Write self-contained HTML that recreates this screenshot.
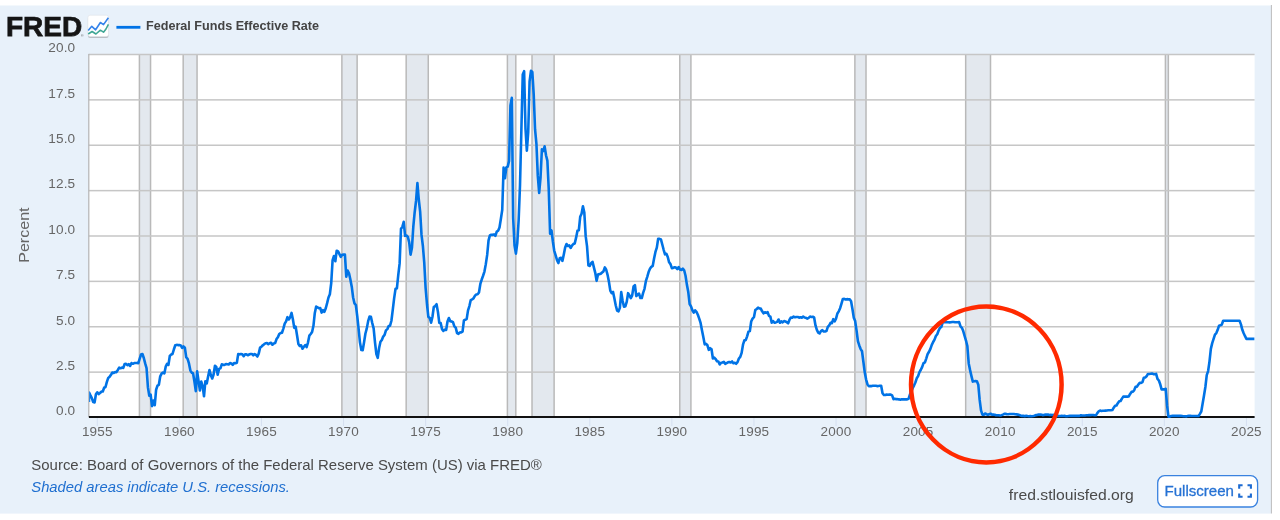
<!DOCTYPE html>
<html lang="en"><head><meta charset="utf-8"><title>Federal Funds Effective Rate | FRED</title>
<style>html,body{margin:0;padding:0;background:#fff;width:1280px;height:520px;overflow:hidden}svg{display:block;position:absolute;left:0;top:0;will-change:transform}text{font-family:"Liberation Sans",sans-serif}.ax{font-size:13px;fill:#666666}.ay{letter-spacing:0.15px;font-size:13.6px}.axx{letter-spacing:0.2px;font-size:13.5px}</style></head><body>
<svg width="1280" height="520" viewBox="0 0 1280 520">
<rect x="0" y="5.5" width="1271.4" height="508.1" fill="#e8f1fa"/>
<rect x="1270.9" y="5" width="1" height="508.5" fill="#bdbdbd"/>
<defs><clipPath id="pc"><rect x="89.2" y="40" width="1165.4" height="380"/></clipPath></defs>
<rect x="88.8" y="54.5" width="1165.8" height="362.5" fill="#ffffff"/>
<rect x="139.41" y="54.5" width="11.14" height="362.5" fill="#e3e8ee"/>
<rect x="138.66" y="54.5" width="1.5" height="362.5" fill="#b9b9b9"/>
<rect x="149.80" y="54.5" width="1.5" height="362.5" fill="#b9b9b9"/>
<rect x="183.18" y="54.5" width="13.88" height="362.5" fill="#e3e8ee"/>
<rect x="182.43" y="54.5" width="1.5" height="362.5" fill="#b9b9b9"/>
<rect x="196.31" y="54.5" width="1.5" height="362.5" fill="#b9b9b9"/>
<rect x="341.87" y="54.5" width="15.25" height="362.5" fill="#e3e8ee"/>
<rect x="341.12" y="54.5" width="1.5" height="362.5" fill="#b9b9b9"/>
<rect x="356.37" y="54.5" width="1.5" height="362.5" fill="#b9b9b9"/>
<rect x="406.17" y="54.5" width="22.09" height="362.5" fill="#e3e8ee"/>
<rect x="405.42" y="54.5" width="1.5" height="362.5" fill="#b9b9b9"/>
<rect x="427.51" y="54.5" width="1.5" height="362.5" fill="#b9b9b9"/>
<rect x="507.40" y="54.5" width="8.41" height="362.5" fill="#e3e8ee"/>
<rect x="506.65" y="54.5" width="1.5" height="362.5" fill="#b9b9b9"/>
<rect x="515.06" y="54.5" width="1.5" height="362.5" fill="#b9b9b9"/>
<rect x="532.02" y="54.5" width="22.09" height="362.5" fill="#e3e8ee"/>
<rect x="531.27" y="54.5" width="1.5" height="362.5" fill="#b9b9b9"/>
<rect x="553.36" y="54.5" width="1.5" height="362.5" fill="#b9b9b9"/>
<rect x="679.77" y="54.5" width="11.14" height="362.5" fill="#e3e8ee"/>
<rect x="679.02" y="54.5" width="1.5" height="362.5" fill="#b9b9b9"/>
<rect x="690.16" y="54.5" width="1.5" height="362.5" fill="#b9b9b9"/>
<rect x="854.87" y="54.5" width="11.14" height="362.5" fill="#e3e8ee"/>
<rect x="854.12" y="54.5" width="1.5" height="362.5" fill="#b9b9b9"/>
<rect x="865.27" y="54.5" width="1.5" height="362.5" fill="#b9b9b9"/>
<rect x="965.68" y="54.5" width="24.82" height="362.5" fill="#e3e8ee"/>
<rect x="964.93" y="54.5" width="1.5" height="362.5" fill="#b9b9b9"/>
<rect x="989.75" y="54.5" width="1.5" height="362.5" fill="#b9b9b9"/>
<rect x="1165.41" y="54.5" width="2.94" height="362.5" fill="#e3e8ee"/>
<rect x="1164.66" y="54.5" width="1.5" height="362.5" fill="#b9b9b9"/>
<rect x="1167.59" y="54.5" width="1.5" height="362.5" fill="#b9b9b9"/>
<text class="ax ay" x="75.3" y="415.3" text-anchor="end">0.0</text>
<rect x="88.8" y="371.38" width="1165.8" height="1.5" fill="#c6c6c6"/>
<text class="ax ay" x="75.3" y="369.9" text-anchor="end">2.5</text>
<rect x="88.8" y="326.00" width="1165.8" height="1.5" fill="#c6c6c6"/>
<text class="ax ay" x="75.3" y="324.6" text-anchor="end">5.0</text>
<rect x="88.8" y="280.62" width="1165.8" height="1.5" fill="#c6c6c6"/>
<text class="ax ay" x="75.3" y="279.2" text-anchor="end">7.5</text>
<rect x="88.8" y="235.25" width="1165.8" height="1.5" fill="#c6c6c6"/>
<text class="ax ay" x="75.3" y="233.8" text-anchor="end">10.0</text>
<rect x="88.8" y="189.88" width="1165.8" height="1.5" fill="#c6c6c6"/>
<text class="ax ay" x="75.3" y="188.4" text-anchor="end">12.5</text>
<rect x="88.8" y="144.50" width="1165.8" height="1.5" fill="#c6c6c6"/>
<text class="ax ay" x="75.3" y="143.1" text-anchor="end">15.0</text>
<rect x="88.8" y="99.12" width="1165.8" height="1.5" fill="#c6c6c6"/>
<text class="ax ay" x="75.3" y="97.7" text-anchor="end">17.5</text>
<rect x="88.8" y="53.75" width="1165.8" height="1.5" fill="#c6c6c6"/>
<text class="ax ay" x="75.3" y="52.3" text-anchor="end">20.0</text>
<rect x="88.2" y="53.9" width="1.2" height="363.1" fill="#b4b4b4"/>
<rect x="88.9" y="416" width="1165.7" height="2" fill="#111111"/>
<polyline points="88.93,401.89 89.09,392.45 90.46,395.36 91.83,398.08 93.20,402.07 94.56,402.44 95.93,394.27 97.30,392.27 98.67,394.09 100.04,393.00 101.40,391.55 102.77,391.55 104.14,387.73 105.51,387.01 106.88,381.93 108.24,377.93 109.61,376.84 110.98,374.85 112.35,372.49 113.72,373.03 115.08,372.12 116.45,372.12 117.82,369.95 119.19,367.59 120.56,368.31 121.92,367.59 123.29,367.95 124.66,363.96 126.03,363.78 127.40,365.23 128.76,364.14 130.13,365.95 131.50,363.05 132.87,363.78 134.24,363.05 135.60,363.05 136.97,363.05 138.34,363.23 139.71,358.69 141.08,354.52 142.44,353.98 143.81,357.97 145.18,363.41 146.55,368.13 147.92,387.19 149.28,395.72 150.65,394.63 152.02,406.07 153.39,400.62 154.76,405.16 156.12,389.73 157.49,385.56 158.86,384.83 160.23,376.30 161.60,373.58 162.96,372.49 164.33,373.40 165.70,366.68 167.07,363.78 168.44,364.87 169.80,355.97 171.17,354.52 172.54,353.98 173.91,349.26 175.28,345.26 176.64,344.90 178.01,345.08 179.38,345.08 180.75,345.44 182.12,347.80 183.48,346.35 184.85,347.62 186.22,357.24 187.59,358.88 188.96,363.41 190.32,370.31 191.69,372.67 193.06,373.21 194.43,381.56 195.80,391.18 197.16,371.40 198.53,380.84 199.90,390.46 201.27,381.56 202.64,386.10 204.00,396.26 205.37,381.20 206.74,383.38 208.11,376.48 209.48,370.13 210.84,375.21 212.21,378.48 213.58,374.48 214.95,365.77 216.32,367.04 217.68,374.67 219.05,368.86 220.42,368.31 221.79,364.32 223.16,364.87 224.52,364.87 225.89,364.14 227.26,364.32 228.63,364.50 230.00,363.05 231.36,363.41 232.73,364.87 234.10,363.05 235.47,363.23 236.84,362.69 238.20,354.16 239.57,354.34 240.94,353.98 242.31,354.34 243.68,356.15 245.04,354.34 246.41,354.34 247.78,355.25 249.15,354.52 250.52,353.98 251.88,353.98 253.25,355.43 254.62,353.98 255.99,354.88 257.36,356.52 258.72,353.61 260.09,347.62 261.46,346.72 262.83,345.26 264.20,344.17 265.56,343.27 266.93,343.09 268.30,344.17 269.67,343.27 271.04,342.72 272.40,344.72 273.77,343.45 275.14,343.09 276.51,339.09 277.88,337.28 279.24,334.01 280.61,333.10 281.98,332.74 283.35,328.56 284.72,323.66 286.08,321.31 287.45,317.13 288.82,319.49 290.19,317.13 291.56,312.96 292.92,319.49 294.29,327.84 295.66,326.75 297.03,335.28 298.40,343.99 299.76,345.99 301.13,345.26 302.50,348.71 303.87,346.72 305.24,345.08 306.60,347.08 307.97,342.54 309.34,335.64 310.71,334.01 312.08,332.01 313.44,325.84 314.81,312.96 316.18,306.60 317.55,307.33 318.92,308.24 320.28,308.06 321.65,312.59 323.02,310.23 324.39,311.87 325.76,308.24 327.12,303.16 328.49,297.53 329.86,294.26 331.23,283.01 332.60,260.14 333.96,255.97 335.33,261.23 336.70,250.70 338.07,251.43 339.44,254.15 340.80,256.87 342.17,254.69 343.54,254.51 344.91,254.51 346.28,276.66 347.64,270.49 349.01,273.39 350.38,279.56 351.75,286.64 353.12,297.53 354.48,303.34 355.85,304.97 357.22,315.86 358.59,328.56 359.96,342.36 361.32,349.98 362.69,350.16 364.06,342.18 365.43,333.47 366.80,328.38 368.16,321.12 369.53,316.59 370.90,316.77 372.27,323.12 373.64,328.38 375.00,342.36 376.37,353.98 377.74,357.79 379.11,347.99 380.48,341.81 381.84,340.00 383.21,336.55 384.58,334.92 385.95,330.38 387.32,329.11 388.68,326.02 390.05,325.66 391.42,320.76 392.79,309.69 394.16,298.07 395.52,288.82 396.89,288.27 398.26,275.20 399.63,263.41 401.00,228.74 402.36,226.93 403.73,221.84 405.10,235.82 406.47,235.46 407.84,236.91 409.20,242.35 410.57,254.69 411.94,247.80 413.31,226.74 414.68,212.22 416.04,200.97 417.41,183.00 418.78,199.52 420.15,211.68 421.52,234.91 422.88,245.98 424.25,262.68 425.62,288.09 426.99,304.24 428.36,316.95 429.72,317.86 431.09,322.76 432.46,316.77 433.83,306.79 435.20,306.06 436.56,304.24 437.93,311.87 439.30,322.76 440.67,323.12 442.04,329.11 443.40,330.92 444.77,329.65 446.14,330.02 447.51,321.49 448.88,318.04 450.24,321.12 451.61,321.49 452.98,322.21 454.35,326.39 455.72,327.66 457.08,333.10 458.45,333.83 459.82,332.56 461.19,332.38 462.56,331.65 463.92,320.40 465.29,319.67 466.66,319.13 468.03,310.42 469.40,306.06 470.76,300.07 472.13,299.34 473.50,298.44 474.87,295.89 476.24,294.44 477.60,294.26 478.97,292.45 480.34,283.92 481.71,279.56 483.08,275.75 484.44,271.57 485.81,264.13 487.18,254.88 488.55,240.36 489.92,235.46 491.28,234.73 492.65,234.91 494.02,234.37 495.39,235.82 496.76,231.64 498.12,230.74 499.49,227.47 500.86,218.94 502.23,210.05 503.60,167.57 504.96,178.28 506.33,167.39 507.70,166.67 509.07,161.04 510.44,105.50 511.80,97.88 513.17,218.21 514.54,245.62 515.91,253.61 517.28,243.08 518.64,220.21 520.01,185.00 521.38,129.82 522.75,74.47 524.12,71.20 525.48,128.37 526.85,150.70 528.22,132.18 529.59,81.36 530.96,70.83 532.32,71.92 533.69,94.07 535.06,129.46 536.43,143.80 537.80,175.92 539.16,192.98 540.53,177.56 541.90,149.24 543.27,151.06 544.64,146.34 546.00,155.23 547.37,160.68 548.74,188.99 550.11,233.82 551.48,230.37 552.84,241.26 554.21,250.52 555.58,255.06 556.95,259.96 558.32,263.04 559.68,258.32 561.05,257.78 562.42,260.87 563.79,254.51 565.16,247.43 566.52,243.99 567.89,245.98 569.26,245.44 570.63,247.98 572.00,245.62 573.36,243.99 574.73,243.44 576.10,237.63 577.47,230.74 578.84,230.19 580.20,216.76 581.57,213.68 582.94,206.23 584.31,212.41 585.68,236.18 587.04,246.35 588.41,265.40 589.78,265.95 591.15,263.23 592.52,261.77 593.88,267.40 595.25,272.84 596.62,280.83 597.99,274.48 599.36,274.12 600.72,273.75 602.09,272.48 603.46,271.39 604.83,267.40 606.20,269.76 607.56,274.84 608.93,281.74 610.30,290.63 611.67,293.17 613.04,291.90 614.40,298.44 615.77,305.51 617.14,310.60 618.51,311.32 619.88,307.87 621.24,292.08 622.61,300.80 623.98,306.79 625.35,306.24 626.72,301.88 628.08,293.17 629.45,295.35 630.82,298.07 632.19,295.35 633.56,286.46 634.92,285.19 636.29,296.08 637.66,294.62 639.03,293.54 640.40,298.07 641.76,298.07 643.13,292.81 644.50,288.82 645.87,281.19 647.24,276.84 648.60,272.12 649.97,268.85 651.34,266.86 652.71,265.95 654.08,258.51 655.44,251.97 656.81,247.62 658.18,238.72 659.55,238.90 660.92,239.45 662.28,244.53 663.65,249.79 665.02,254.33 666.39,253.79 667.76,257.05 669.12,262.32 670.49,264.13 671.86,268.13 673.23,267.94 674.60,267.22 675.96,267.58 677.33,269.03 678.70,267.04 680.07,269.58 681.44,269.94 682.80,268.67 684.17,270.30 685.54,275.75 686.91,284.82 688.28,292.08 689.64,304.06 691.01,306.42 692.38,310.23 693.75,312.59 695.12,310.42 696.48,311.87 697.85,314.77 699.22,318.58 700.59,322.94 701.96,330.20 703.32,337.10 704.69,344.36 706.06,343.81 707.43,345.26 708.80,349.80 710.16,348.17 711.53,349.26 712.90,358.51 714.27,357.61 715.64,359.06 717.00,361.24 718.37,361.42 719.74,364.50 721.11,362.69 722.48,362.51 723.84,361.78 725.21,363.78 726.58,363.05 727.95,362.32 729.32,361.96 730.68,362.51 732.05,361.42 733.42,363.23 734.79,362.69 736.16,363.78 737.52,362.14 738.89,358.51 740.26,356.88 741.63,352.89 743.00,344.72 744.36,340.36 745.73,340.18 747.10,336.37 748.47,331.65 749.84,331.11 751.20,321.49 752.57,318.58 753.94,317.13 755.31,310.05 756.68,308.96 758.04,307.69 759.41,308.42 760.78,308.60 762.15,311.32 763.52,313.32 764.88,312.23 766.25,312.96 767.62,312.23 768.99,315.86 770.36,316.59 771.72,322.76 773.09,321.12 774.46,322.76 775.83,322.39 777.20,321.85 778.56,319.49 779.93,322.76 781.30,321.31 782.67,322.39 784.04,321.12 785.40,321.49 786.77,322.21 788.14,323.30 789.51,319.67 790.88,317.49 792.24,317.68 793.61,316.59 794.98,317.31 796.35,316.95 797.72,316.95 799.08,317.68 800.45,317.31 801.82,317.68 803.19,316.59 804.56,317.49 805.92,317.86 807.29,318.58 808.66,317.86 810.03,316.59 811.40,316.95 812.76,316.77 814.13,317.49 815.50,325.48 816.87,329.84 818.24,332.56 819.60,333.47 820.97,331.11 822.34,330.20 823.71,331.47 825.08,331.47 826.44,331.11 827.81,326.93 829.18,325.48 830.55,322.76 831.92,323.12 833.28,319.13 834.65,321.31 836.02,318.58 837.39,313.50 838.76,311.32 840.12,308.24 841.49,303.70 842.86,298.98 844.23,298.80 845.60,299.52 846.96,299.16 848.33,299.34 849.70,299.34 851.07,301.34 852.44,308.96 853.80,317.86 855.17,321.12 856.54,330.38 857.91,341.09 859.28,345.44 860.64,349.07 862.01,351.25 863.38,361.78 864.75,372.31 866.12,379.57 867.48,384.47 868.85,386.10 870.22,385.92 871.59,386.10 872.96,385.74 874.32,385.74 875.69,385.74 877.06,386.10 878.43,385.92 879.80,385.74 881.16,385.74 882.53,393.18 883.90,394.99 885.27,394.99 886.64,394.63 888.00,394.81 889.37,394.63 890.74,394.63 892.11,395.36 893.48,399.17 894.84,398.81 896.21,399.17 897.58,399.17 898.95,399.35 900.32,399.71 901.68,399.35 903.05,399.17 904.42,399.35 905.79,399.35 907.16,399.35 908.52,398.81 909.89,394.63 911.26,391.55 912.63,388.28 914.00,385.56 915.36,382.47 916.73,378.30 918.10,376.12 919.47,372.12 920.84,369.77 922.20,366.86 923.57,363.05 924.94,362.32 926.31,358.33 927.68,353.98 929.04,351.80 930.41,348.89 931.78,344.90 933.15,342.00 934.52,339.64 935.88,336.01 937.25,334.19 938.62,330.56 939.99,327.84 941.36,326.93 942.72,322.39 944.09,322.21 945.46,322.21 946.83,322.21 948.20,322.21 949.56,322.39 950.93,322.21 952.30,322.03 953.67,322.03 955.04,322.21 956.40,322.21 957.77,322.21 959.14,322.03 960.51,326.39 961.88,327.84 963.24,331.11 964.61,336.01 965.98,340.54 967.35,345.99 968.72,363.41 970.08,370.13 971.45,376.12 972.82,381.56 974.19,381.20 975.56,381.02 976.92,381.20 978.29,384.65 979.66,399.89 981.03,410.42 982.40,414.60 983.76,414.78 985.13,413.51 986.50,414.23 987.87,414.78 989.24,414.23 990.60,413.69 991.97,414.60 993.34,414.60 994.71,414.78 996.08,415.32 997.44,415.32 998.81,415.32 1000.18,415.50 1001.55,415.14 1002.92,414.60 1004.28,413.87 1005.65,413.87 1007.02,414.23 1008.39,414.23 1009.76,414.05 1011.12,414.05 1012.49,414.05 1013.86,414.05 1015.23,414.23 1016.60,414.41 1017.96,414.60 1019.33,414.96 1020.70,415.69 1022.07,415.87 1023.44,415.87 1024.80,416.23 1026.17,415.69 1027.54,416.05 1028.91,416.23 1030.28,416.05 1031.64,416.23 1033.01,416.05 1034.38,415.69 1035.75,415.14 1037.12,414.96 1038.48,414.60 1039.85,414.60 1041.22,414.60 1042.59,415.14 1043.96,414.96 1045.32,414.60 1046.69,414.60 1048.06,414.60 1049.43,414.96 1050.80,414.78 1052.16,414.96 1053.53,414.78 1054.90,415.50 1056.27,415.87 1057.64,415.87 1059.00,416.05 1060.37,416.05 1061.74,415.87 1063.11,416.05 1064.48,415.87 1065.84,416.23 1067.21,416.23 1068.58,416.05 1069.95,415.87 1071.32,415.87 1072.68,415.69 1074.05,415.87 1075.42,415.87 1076.79,415.87 1078.16,415.87 1079.52,415.87 1080.89,415.32 1082.26,415.50 1083.63,415.50 1085.00,415.50 1086.36,415.32 1087.73,415.32 1089.10,415.14 1090.47,415.14 1091.84,414.96 1093.20,414.96 1094.57,415.32 1095.94,415.32 1097.31,413.14 1098.68,411.33 1100.04,410.60 1101.41,410.97 1102.78,410.78 1104.15,410.78 1105.52,410.60 1106.88,410.42 1108.25,410.24 1109.62,410.24 1110.99,410.24 1112.36,410.06 1113.72,407.70 1115.09,405.70 1116.46,405.52 1117.83,403.16 1119.20,401.17 1120.56,400.98 1121.93,398.62 1123.30,396.63 1124.67,396.45 1126.04,396.63 1127.40,396.63 1128.77,396.45 1130.14,393.90 1131.51,391.91 1132.88,391.73 1134.24,390.09 1135.61,386.83 1136.98,386.64 1138.35,384.47 1139.72,382.83 1141.08,382.83 1142.45,382.11 1143.82,377.75 1145.19,377.57 1146.56,376.30 1147.92,373.94 1149.29,373.94 1150.66,373.76 1152.03,373.58 1153.40,374.12 1154.76,374.30 1156.13,373.94 1157.50,378.84 1158.87,380.47 1160.24,384.29 1161.60,389.37 1162.97,389.37 1164.34,389.37 1165.71,388.82 1167.08,405.70 1168.44,416.59 1169.81,416.59 1171.18,416.05 1172.55,415.87 1173.92,415.69 1175.28,415.87 1176.65,415.87 1178.02,415.87 1179.39,415.87 1180.76,415.87 1182.12,416.05 1183.49,416.23 1184.86,416.23 1186.23,416.41 1187.60,416.05 1188.96,415.69 1190.33,415.87 1191.70,416.05 1193.07,416.05 1194.44,416.05 1195.80,416.05 1197.17,416.05 1198.54,416.05 1199.91,413.87 1201.28,411.51 1202.64,403.52 1204.01,395.54 1205.38,387.01 1206.75,375.21 1208.12,371.04 1209.48,361.60 1210.85,348.89 1212.22,343.09 1213.59,338.91 1214.96,334.55 1216.32,333.10 1217.69,329.84 1219.06,325.66 1220.43,325.30 1221.80,324.57 1223.16,320.76 1224.53,320.76 1225.90,320.76 1227.27,320.76 1228.64,320.76 1230.00,320.76 1231.37,320.76 1232.74,320.76 1234.11,320.76 1235.48,320.76 1236.84,320.76 1238.21,320.76 1239.58,320.76 1240.95,324.39 1242.32,329.84 1243.68,333.28 1245.05,336.19 1246.42,338.91 1247.79,338.91 1249.16,338.91 1250.52,338.91 1251.89,338.91 1253.26,338.91 1254.63,338.91" fill="none" stroke="#0073e6" stroke-width="2.6" stroke-linejoin="round" stroke-linecap="butt" clip-path="url(#pc)"/>
<rect x="96.80" y="418" width="1" height="8" fill="#d5dff0"/>
<text class="ax axx" x="97.3" y="436.3" text-anchor="middle">1955</text>
<rect x="178.88" y="418" width="1" height="8" fill="#d5dff0"/>
<text class="ax axx" x="179.4" y="436.3" text-anchor="middle">1960</text>
<rect x="260.96" y="418" width="1" height="8" fill="#d5dff0"/>
<text class="ax axx" x="261.5" y="436.3" text-anchor="middle">1965</text>
<rect x="343.04" y="418" width="1" height="8" fill="#d5dff0"/>
<text class="ax axx" x="343.5" y="436.3" text-anchor="middle">1970</text>
<rect x="425.12" y="418" width="1" height="8" fill="#d5dff0"/>
<text class="ax axx" x="425.6" y="436.3" text-anchor="middle">1975</text>
<rect x="507.20" y="418" width="1" height="8" fill="#d5dff0"/>
<text class="ax axx" x="507.7" y="436.3" text-anchor="middle">1980</text>
<rect x="589.28" y="418" width="1" height="8" fill="#d5dff0"/>
<text class="ax axx" x="589.8" y="436.3" text-anchor="middle">1985</text>
<rect x="671.36" y="418" width="1" height="8" fill="#d5dff0"/>
<text class="ax axx" x="671.9" y="436.3" text-anchor="middle">1990</text>
<rect x="753.44" y="418" width="1" height="8" fill="#d5dff0"/>
<text class="ax axx" x="753.9" y="436.3" text-anchor="middle">1995</text>
<rect x="835.52" y="418" width="1" height="8" fill="#d5dff0"/>
<text class="ax axx" x="836.0" y="436.3" text-anchor="middle">2000</text>
<rect x="917.60" y="418" width="1" height="8" fill="#d5dff0"/>
<text class="ax axx" x="918.1" y="436.3" text-anchor="middle">2005</text>
<rect x="999.68" y="418" width="1" height="8" fill="#d5dff0"/>
<text class="ax axx" x="1000.2" y="436.3" text-anchor="middle">2010</text>
<rect x="1081.76" y="418" width="1" height="8" fill="#d5dff0"/>
<text class="ax axx" x="1082.3" y="436.3" text-anchor="middle">2015</text>
<rect x="1163.84" y="418" width="1" height="8" fill="#d5dff0"/>
<text class="ax axx" x="1164.3" y="436.3" text-anchor="middle">2020</text>
<rect x="1245.92" y="418" width="1" height="8" fill="#d5dff0"/>
<text class="ax axx" x="1246.4" y="436.3" text-anchor="middle">2025</text>
<text transform="translate(29 262.8) rotate(-90)" font-size="14.4" fill="#666666" textLength="55.4" lengthAdjust="spacingAndGlyphs">Percent</text>
<ellipse cx="986.3" cy="384.4" rx="75.3" ry="78.0" fill="none" stroke="#ff2a00" stroke-width="4.5"/>
<text x="6" y="36.3" font-size="28.3" font-weight="bold" fill="#151515" stroke="#151515" stroke-width="0.75" textLength="76.3" lengthAdjust="spacingAndGlyphs">FRED</text>
<text x="81" y="37" font-size="3.5" fill="#555">®</text>
<rect x="87.9" y="16.6" width="20.7" height="21.3" rx="2.2" fill="#b9bec4"/>
<rect x="87.9" y="15.2" width="20.7" height="21.3" rx="2.2" fill="#ffffff" stroke="#dfe3e8" stroke-width="0.6"/>
<polyline points="88.2,30.5 91.8,26.3 95.6,29.8 100.4,22.5 103.5,24.6 108.4,17.7" fill="none" stroke="#3583ea" stroke-width="1.6" stroke-linejoin="round"/>
<polyline points="88.2,34 92.1,31.5 95.9,34 100.4,30.2 103.5,32.2 106,29 108.4,24.3" fill="none" stroke="#3fa694" stroke-width="1.6" stroke-linejoin="round"/>
<rect x="116.4" y="25.9" width="24" height="2.8" fill="#0073e6"/>
<text x="146" y="29.8" font-size="12" font-weight="bold" fill="#444444" textLength="173" lengthAdjust="spacingAndGlyphs">Federal Funds Effective Rate</text>
<text x="31.3" y="469.6" font-size="14.4" fill="#4a4a4a" textLength="510.5" lengthAdjust="spacingAndGlyphs">Source: Board of Governors of the Federal Reserve System (US) via FRED®</text>
<text x="31.3" y="492.1" font-size="14.4" font-style="italic" fill="#1f6fd0" textLength="258.6" lengthAdjust="spacingAndGlyphs">Shaded areas indicate U.S. recessions.</text>
<text x="1008.8" y="500.1" font-size="14.4" fill="#4a4a4a" textLength="125" lengthAdjust="spacingAndGlyphs">fred.stlouisfed.org</text>
<rect x="1157.7" y="475.7" width="99.9" height="31.3" rx="7" fill="#ffffff" stroke="#3a82df" stroke-width="1.3"/>
<text x="1164.5" y="496.1" font-size="14.4" fill="#2672d4" stroke="#2672d4" stroke-width="0.3" textLength="69.5" lengthAdjust="spacingAndGlyphs">Fullscreen</text>
<path d="M1239.2 488.7V485.3H1242.6 M1247.5 485.3H1250.9V488.7 M1250.9 493.4V496.8H1247.5 M1242.6 496.8H1239.2V493.4" fill="none" stroke="#1d6bd2" stroke-width="2.1"/>
</svg></body></html>
